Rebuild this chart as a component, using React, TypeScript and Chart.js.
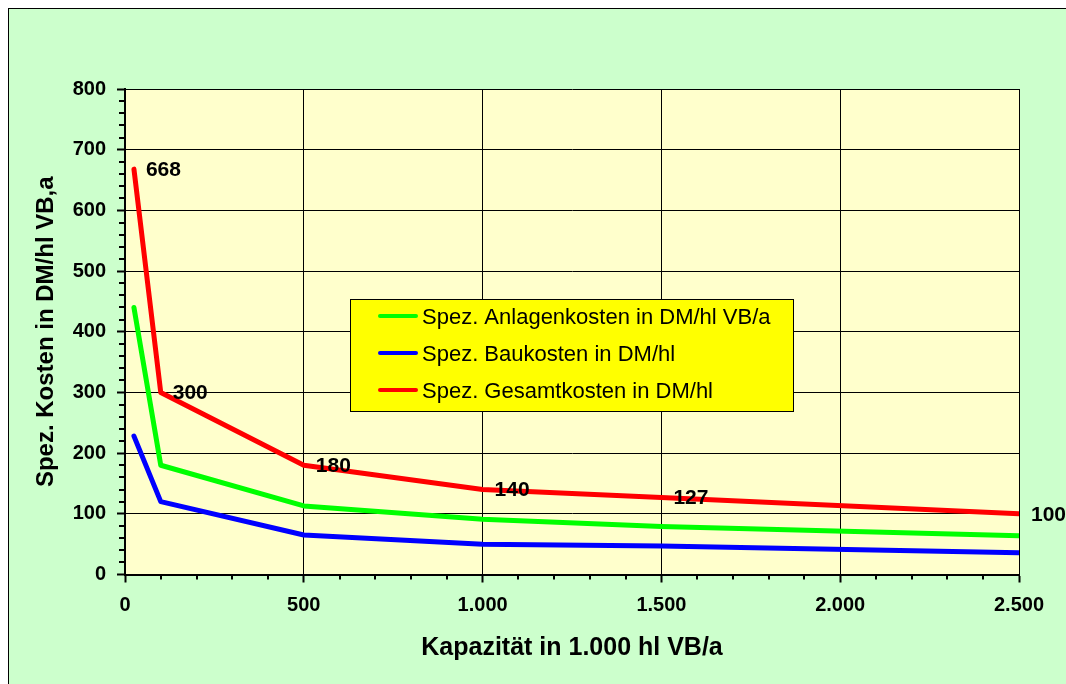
import React, { useEffect, useRef } from 'react';
import { Chart, registerables } from 'chart.js';

Chart.register(...registerables);

const FONT = "Arial, 'Liberation Sans', sans-serif";

const capacity = [25, 100, 500, 1000, 1500, 2500];
const anlagenkosten = [440, 180, 113, 91, 79, 64];
const baukosten = [228, 120, 65, 50, 47, 36];
const gesamtkosten = [668, 300, 180, 140, 127, 100];
const gesamtLabels = ['668', '300', '180', '140', '127', '100'];

const seriesNames = [
  'Spez. Anlagenkosten in DM/hl VB/a',
  'Spez. Baukosten in DM/hl',
  'Spez. Gesamtkosten in DM/hl',
];
const seriesColors = ['#00FF00', '#0000FF', '#FF0000'];

const xMajorTicks = [0, 500, 1000, 1500, 2000, 2500];
const xTickLabels = ['0', '500', '1.000', '1.500', '2.000', '2.500'];
const yMajorTicks = [0, 100, 200, 300, 400, 500, 600, 700, 800];
const yTickLabels = ['0', '100', '200', '300', '400', '500', '600', '700', '800'];

const xTitle = 'Kapazität in 1.000 hl VB/a';
const yTitle = 'Spez. Kosten in DM/hl VB,a';

const plotBgPlugin = {
  id: 'plotBg',
  beforeDraw(chart: any) {
    const { ctx, chartArea } = chart;
    ctx.save();
    ctx.fillStyle = '#FFFFCC';
    ctx.fillRect(chartArea.left, chartArea.top, chartArea.right - chartArea.left, chartArea.bottom - chartArea.top);
    ctx.restore();
  },
};

const dataLabelPlugin = {
  id: 'dataLabels',
  afterDatasetsDraw(chart: any) {
    const { ctx } = chart;
    const meta = chart.getDatasetMeta(2);
    ctx.save();
    ctx.font = `bold 21px ${FONT}`;
    ctx.fillStyle = '#000';
    ctx.textAlign = 'left';
    ctx.textBaseline = 'middle';
    meta.data.forEach((pt: any, i: number) => {
      const lbl = gesamtLabels[i];
      if (lbl) ctx.fillText(lbl, pt.x + 12, pt.y + 1);
    });
    ctx.restore();
  },
};

const minorTickPlugin = {
  id: 'minorTicks',
  afterDraw(chart: any) {
    const { ctx, chartArea } = chart;
    const xs = chart.scales.x;
    const ys = chart.scales.y;
    ctx.save();
    ctx.strokeStyle = '#000';
    ctx.lineWidth = 2;
    ctx.beginPath();
    for (let v = xs.min; v <= xs.max; v += 100) {
      if (xMajorTicks.includes(v)) continue;
      const px = Math.round(xs.getPixelForValue(v));
      ctx.moveTo(px, chartArea.bottom);
      ctx.lineTo(px, chartArea.bottom + 5);
    }
    for (let v = ys.min; v <= ys.max; v += 20) {
      if (yMajorTicks.includes(v)) continue;
      const py = Math.round(ys.getPixelForValue(v));
      ctx.moveTo(chartArea.left, py);
      ctx.lineTo(chartArea.left - 6, py);
    }
    ctx.stroke();
    ctx.restore();
  },
};

const legendBoxPlugin = {
  id: 'legendBox',
  afterDraw(chart: any) {
    const { ctx } = chart;
    const box = { x: 341, y: 290, w: 443, h: 112 };
    ctx.save();
    ctx.fillStyle = '#FFFF00';
    ctx.fillRect(box.x, box.y, box.w, box.h);
    ctx.strokeStyle = '#000';
    ctx.lineWidth = 1;
    ctx.strokeRect(box.x + 0.5, box.y + 0.5, box.w, box.h);
    const rows = [307, 344, 381];
    chart.data.datasets.forEach((ds: any, i: number) => {
      const y = rows[i];
      ctx.strokeStyle = ds.borderColor;
      ctx.lineWidth = 4;
      ctx.lineCap = 'round';
      ctx.beginPath();
      ctx.moveTo(371, y);
      ctx.lineTo(407, y);
      ctx.stroke();
      ctx.fillStyle = '#000';
      ctx.font = `22px ${FONT}`;
      ctx.textAlign = 'left';
      ctx.textBaseline = 'middle';
      ctx.fillText(ds.label, 413, y + 2);
    });
    ctx.restore();
  },
};

export default function App() {
  const ref = useRef<HTMLCanvasElement | null>(null);

  useEffect(() => {
    const canvas = ref.current;
    if (!canvas) return;
    const values = [anlagenkosten, baukosten, gesamtkosten];
    const chart = new Chart(canvas, {
      type: 'line',
      data: {
        datasets: values.map((arr, i) => ({
          label: seriesNames[i],
          data: capacity.map((x, j) => ({ x, y: arr[j] })),
          borderColor: seriesColors[i],
          backgroundColor: seriesColors[i],
          borderWidth: 5,
          pointRadius: 0,
          tension: 0,
          fill: false,
          borderCapStyle: 'round',
          borderJoinStyle: 'round',
        })),
      },
      options: {
        responsive: false,
        animation: false,
        events: [],
        layout: { padding: { top: 80, right: 47, bottom: 0, left: 0 } },
        plugins: {
          legend: { display: false },
          tooltip: { enabled: false },
        },
        scales: {
          x: {
            type: 'linear',
            position: 'bottom',
            min: 0,
            max: 2500,
            ticks: {
              stepSize: 100,
              autoSkip: false,
              maxRotation: 0,
              color: '#000',
              padding: 11,
              font: { family: FONT, size: 20, weight: 'bold' },
              callback: (v: any) => {
                const i = xMajorTicks.indexOf(Number(v));
                return i >= 0 ? xTickLabels[i] : '';
              },
            },
            grid: {
              color: (c: any) => (c.tick && xMajorTicks.includes(c.tick.value) ? '#000' : 'rgba(0,0,0,0)'),
              tickColor: (c: any) => (c.tick && xMajorTicks.includes(c.tick.value) ? '#000' : 'rgba(0,0,0,0)'),
              lineWidth: 1,
              tickWidth: 2,
              tickLength: 8,
            },
            border: { color: '#000', width: 2 },
            title: {
              display: true,
              text: xTitle,
              color: '#000',
              font: { family: FONT, size: 25, weight: 'bold' },
              padding: { top: 0, bottom: 21 },
            },
            afterFit: (s: any) => {
              s.height = 109.5;
            },
          },
          y: {
            type: 'linear',
            min: 0,
            max: 800,
            ticks: {
              stepSize: 20,
              autoSkip: false,
              color: '#000',
              padding: 11,
              font: { family: FONT, size: 20, weight: 'bold' },
              callback: (v: any) => {
                const i = yMajorTicks.indexOf(Number(v));
                return i >= 0 ? yTickLabels[i] : '';
              },
            },
            grid: {
              color: (c: any) => (c.tick && yMajorTicks.includes(c.tick.value) ? '#000' : 'rgba(0,0,0,0)'),
              tickColor: (c: any) => (c.tick && yMajorTicks.includes(c.tick.value) ? '#000' : 'rgba(0,0,0,0)'),
              lineWidth: 1,
              tickWidth: 2,
              tickLength: 8,
            },
            border: { color: '#000', width: 2 },
            title: {
              display: true,
              text: yTitle,
              color: '#000',
              font: { family: FONT, size: 24, weight: 'bold' },
              padding: { top: 23, bottom: 0 },
            },
            afterFit: (s: any) => {
              s.width = 116;
            },
          },
        },
      } as any,
      plugins: [plotBgPlugin, dataLabelPlugin, minorTickPlugin, legendBoxPlugin],
    });
    return () => chart.destroy();
  }, []);

  return (
    <div
      style={{
        position: 'fixed',
        left: 8,
        top: 8,
        width: 1058,
        height: 676,
        boxSizing: 'border-box',
        borderTop: '1px solid #000',
        borderLeft: '1px solid #000',
        background: '#CCFFCC',
        overflow: 'hidden',
      }}
    >
      <canvas ref={ref} width={1057} height={675} style={{ display: 'block' }} />
    </div>
  );
}
